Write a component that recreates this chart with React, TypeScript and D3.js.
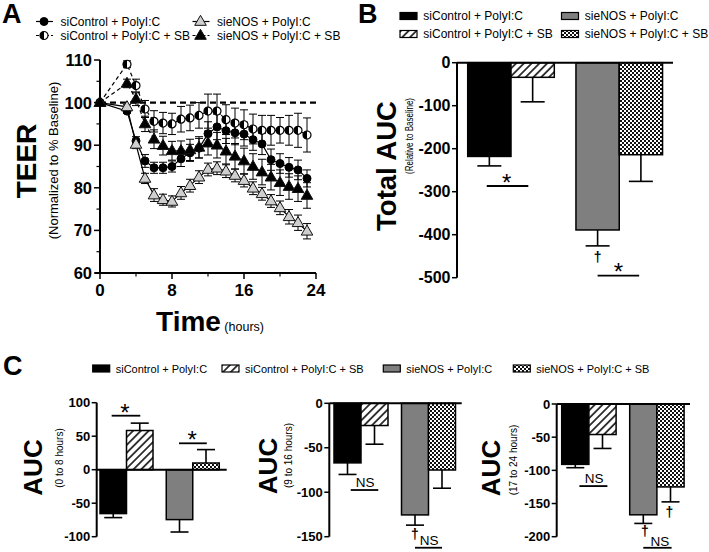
import React from 'react';
import * as d3 from 'd3';

const FONT = '"Liberation Sans", Arial, Helvetica, sans-serif';

// ---------- shared ----------
const groupLabels = [
  'siControl + PolyI:C',
  'siControl + PolyI:C + SB',
  'sieNOS + PolyI:C',
  'sieNOS + PolyI:C + SB',
];

// ---------- Panel A : TEER time course ----------
const timeHours = [0, 3, 4, 5, 6, 7, 8, 9, 10, 11, 12, 13, 14, 15, 16, 17, 18, 19, 20, 21, 22, 23];
const teerSiControl = [100, 98, 91, 86.3, 84.7, 84.7, 85, 86.8, 88.2, 89.3, 92.7, 94.3, 93.4, 92.9, 92.6, 91.3, 90.3, 86.6, 85.7, 84.8, 84.2, 82.2];
const teerSiControlSB = [100, 109, 104, 98.5, 95.6, 95.2, 95, 96.1, 96.4, 97, 98, 98, 96, 95.2, 94.8, 93.8, 93.5, 93.5, 93.5, 93.5, 93.5, 92.4];
const teerSieNOS = [100, 99, 90.2, 82.2, 78.3, 77.2, 76.8, 78.8, 80.5, 82.5, 84.3, 84.6, 83.9, 82.9, 81.7, 79.9, 78.6, 76.9, 75.3, 73.2, 71.8, 69.8];
const teerSieNOSSB = [100, 104.5, 100.8, 95, 91.4, 89.9, 88.7, 88.7, 88.9, 89.5, 90.5, 90, 88.6, 87.4, 86.3, 85, 83.7, 82.5, 81.2, 80.3, 79.8, 78.2];
const semSiControl = [0, 0.5, 1, 1.5, 1.3, 1.3, 1.3, 1.8, 2, 2.3, 2.8, 3, 3, 2.8, 2.8, 2.5, 2.5, 2.5, 2.3, 2.3, 2.3, 2];
const semSiControlSB = [0, 0.8, 1.5, 2, 2.5, 2.5, 2.5, 3, 3, 3, 4, 4, 3.5, 3.5, 3.5, 3.5, 3.5, 3.5, 3, 3.5, 4, 4];
const semSieNOS = [0, 0.5, 1, 1.2, 1.5, 1.3, 1.3, 1.5, 1.5, 1.5, 1.5, 1.5, 1.5, 1.5, 1.5, 1.5, 1.5, 1.5, 1.6, 1.7, 1.8, 1.8];
const semSieNOSSB = [0, 1, 1.5, 1.8, 2.2, 2.2, 2.2, 2.3, 2.5, 2.5, 2.8, 3, 3, 3, 3, 3, 3, 3, 3, 3, 3, 3];
const teerTicks = [60, 70, 80, 90, 100, 110];
const teerMinorTicks = [65, 75, 85, 95, 105];
const timeTicks = [0, 8, 16, 24];
const timeMinorTicks = [4, 12, 20];

// ---------- Panel B : total AUC ----------
const totalAUC = [-218, -34, -389, -214];
const totalAUCErr = [22, 57, 37, 62];
const totalAUCTicks = [0, -100, -200, -300, -400, -500];

// ---------- Panel C : AUC by period ----------
const auc0to8 = [-65.5, 58.5, -74.5, 10];
const auc0to8Err = [6, 11, 18.5, 20];
const auc0to8Ticks = [100, 50, 0, -50, -100];
const auc9to16 = [-67, -25, -125.5, -75];
const auc9to16Err = [13, 21, 11.5, 20.5];
const auc9to16Ticks = [0, -50, -100, -150];
const auc17to24 = [-91, -46, -167, -125];
const auc17to24Err = [5, 21, 13, 22.5];
const auc17to24Ticks = [0, -50, -100, -150, -200];

const barFills = ['#000000', 'url(#hatch)', '#7f7f7f', 'url(#checker)'];

type Ann =
  | { kind: 'line'; s0: number; s1: number; v: number }
  | { kind: 'star' | 'ns' | 'dagger'; s: number; v: number };

function textProps(kind: string, cy: number) {
  if (kind === 'star') return { fontSize: 24, y: cy + 0.58 * 24, fontWeight: 'normal', t: '*' };
  if (kind === 'ns') return { fontSize: 13.5, y: cy + 0.36 * 13.5, fontWeight: 'normal', t: 'NS' };
  return { fontSize: 14, y: cy + 0.3 * 14, fontWeight: 'bold', t: '\u2020' };
}

function BarPanel(props: {
  values: number[]; errs: number[]; ticks: number[]; domain: [number, number]; yRange: [number, number];
  axisX: number; axisEnd: number; barLeft: number; barW: number; capW: number; tickFont: number; anns: Ann[];
}) {
  const { values, errs, ticks, domain, yRange, axisX, axisEnd, barLeft, barW, capW, tickFont, anns } = props;
  const y = d3.scaleLinear().domain(domain).range(yRange);
  const slot = d3.scaleLinear().domain([0, 1]).range([barLeft, barLeft + barW]);
  const slotOf = (i: number) => i + (i >= 2 ? 0.5 : 0);
  const y0 = y(0);
  const [dMin, dMax] = d3.extent(domain) as [number, number];
  return (
    <g>
      {values.map((v, i) => {
        const x0 = slot(slotOf(i));
        const x1 = slot(slotOf(i) + 1);
        const cx = (x0 + x1) / 2;
        const ve = v + Math.sign(v) * errs[i];
        return (
          <g key={i}>
            <line x1={cx} x2={cx} y1={y(v)} y2={y(ve)} stroke="#000" strokeWidth={1.6} />
            <line x1={cx - capW / 2} x2={cx + capW / 2} y1={y(ve)} y2={y(ve)} stroke="#000" strokeWidth={1.6} />
            <rect x={x0} y={Math.min(y(v), y0)} width={x1 - x0} height={Math.abs(y(v) - y0)}
              fill={barFills[i]} stroke="#000" strokeWidth={1.5} />
          </g>
        );
      })}
      <line x1={axisX} x2={axisX} y1={y(dMin)} y2={y(dMax)} stroke="#000" strokeWidth={2} />
      <line x1={axisX} x2={axisEnd} y1={y0} y2={y0} stroke="#000" strokeWidth={2} />
      {ticks.map((t) => (
        <g key={t}>
          <line x1={axisX - 5} x2={axisX} y1={y(t)} y2={y(t)} stroke="#000" strokeWidth={1.5} />
          <text x={axisX - 6.5} y={y(t)} dy="0.36em" textAnchor="end" fontSize={tickFont} fontWeight="bold">{t}</text>
        </g>
      ))}
      {anns.map((a, k) => {
        if (a.kind === 'line') {
          return <line key={k} x1={slot(a.s0)} x2={slot(a.s1)} y1={y(a.v)} y2={y(a.v)} stroke="#000" strokeWidth={1.8} />;
        }
        const tp = textProps(a.kind, y(a.v));
        return (
          <text key={k} x={slot(a.s)} y={tp.y} textAnchor="middle" fontSize={tp.fontSize} fontWeight={tp.fontWeight}>{tp.t}</text>
        );
      })}
    </g>
  );
}

function RotLabel({ x, y, size, bold, len, children }: { x: number; y: number; size: number; bold?: boolean; len?: number; children: any }) {
  return (
    <text transform={`translate(${x},${y}) rotate(-90)`} textAnchor="middle" dy="0.35em"
      fontSize={size} fontWeight={bold ? 'bold' : 'normal'}
      textLength={len} lengthAdjust={len ? 'spacingAndGlyphs' : undefined}>{children}</text>
  );
}

function Marker({ shape, x, y }: { shape: string; x: number; y: number }) {
  const r = 4;
  if (shape === 'circle') return <circle cx={x} cy={y} r={r} fill="#000" stroke="#000" strokeWidth={1} />;
  if (shape === 'half')
    return (
      <g transform={`translate(${x},${y})`}>
        <circle r={r} fill="#fff" stroke="#000" strokeWidth={1.2} />
        <path d={`M0,${-r} A${r},${r} 0 0 0 0,${r} Z`} fill="#000" />
      </g>
    );
  const tri = d3.symbol().type(d3.symbolTriangle).size(58)() as string;
  return (
    <path d={tri} transform={`translate(${x},${y + 0.5})`}
      fill={shape === 'triGray' ? '#cfcfcf' : '#000'} stroke="#111" strokeWidth={1} />
  );
}

export default function App() {
  // ----- Panel A scales -----
  const xA = d3.scaleLinear().domain([0, 24]).range([100, 316]);
  const yA = d3.scaleLinear().domain([60, 110]).range([273, 60]);
  const seriesA = [
    { name: groupLabels[0], values: teerSiControl, errs: semSiControl, shape: 'circle', dashed: false },
    { name: groupLabels[1], values: teerSiControlSB, errs: semSiControlSB, shape: 'half', dashed: true },
    { name: groupLabels[2], values: teerSieNOS, errs: semSieNOS, shape: 'triGray', dashed: false },
    { name: groupLabels[3], values: teerSieNOSSB, errs: semSieNOSSB, shape: 'triBlack', dashed: true },
  ];
  const lineGen = d3.line<number>().x((_, i) => xA(timeHours[i])).y((d) => yA(d));
  const legendA = [
    { x: 44, y: 21.5 }, { x: 44, y: 35.5 }, { x: 200.5, y: 21.5 }, { x: 200.5, y: 35.5 },
  ];

  const legendB = [
    { x: 400, y: 12.5 }, { x: 400, y: 30.5 }, { x: 561.5, y: 12.5 }, { x: 561.5, y: 30.5 },
  ];
  const legendC = [92.7, 222, 383.3, 513.3];

  return (
    <svg width={709} height={552} style={{ position: 'absolute', left: 0, top: 0, display: 'block' }}
      fontFamily={FONT} fill="#000">
      <defs>
        <pattern id="hatch" patternUnits="userSpaceOnUse" width={5.5} height={5.5} patternTransform="rotate(45)">
          <rect width={5.5} height={5.5} fill="#fff" />
          <line x1={2.75} y1={0} x2={2.75} y2={5.5} stroke="#000" strokeWidth={1.5} />
        </pattern>
        <pattern id="checker" patternUnits="userSpaceOnUse" width={4} height={4}>
          <rect width={4} height={4} fill="#fff" />
          <rect width={2} height={2} fill="#111" />
          <rect x={2} y={2} width={2} height={2} fill="#111" />
        </pattern>
      </defs>
      <rect width={709} height={552} fill="#fff" />

      {/* ================= Panel A ================= */}
      <text x={2} y={23} fontSize={27} fontWeight="bold">A</text>
      {seriesA.map((s, i) => (
        <g key={i}>
          <line x1={legendA[i].x - 8} x2={legendA[i].x + 9} y1={legendA[i].y} y2={legendA[i].y}
            stroke="#000" strokeWidth={1.2} strokeDasharray={s.dashed ? '3 2' : undefined} />
          <Marker shape={s.shape} x={legendA[i].x} y={legendA[i].y} />
          <text x={legendA[i].x + 16.5} y={legendA[i].y + 4} fontSize={12}>{s.name}</text>
        </g>
      ))}
      {/* baseline dashed */}
      <line x1={xA(0)} x2={xA(24)} y1={yA(100)} y2={yA(100)} stroke="#000" strokeWidth={2.2} strokeDasharray="6 4" />
      {seriesA.map((s, i) => (
        <path key={'l' + i} d={lineGen(s.values) as string} fill="none" stroke="#000" strokeWidth={1.2}
          strokeDasharray={s.dashed ? '4 3' : undefined} />
      ))}
      {seriesA.map((s, i) => (
        <g key={'e' + i}>
          {s.values.map((v, j) => {
            if (!s.errs[j]) return null;
            const x = xA(timeHours[j]);
            const hi = yA(v + s.errs[j]);
            const lo = yA(v - s.errs[j]);
            return (
              <g key={j}>
                <line x1={x} x2={x} y1={hi} y2={lo} stroke="#000" strokeWidth={1} />
                <line x1={x - 4} x2={x + 4} y1={hi} y2={hi} stroke="#000" strokeWidth={1} />
                <line x1={x - 4} x2={x + 4} y1={lo} y2={lo} stroke="#000" strokeWidth={1} />
              </g>
            );
          })}
        </g>
      ))}
      {seriesA.map((s, i) => (
        <g key={'m' + i}>
          {s.values.map((v, j) => (
            <Marker key={j} shape={s.shape} x={xA(timeHours[j])} y={yA(v)} />
          ))}
        </g>
      ))}
      {/* axes A */}
      <line x1={xA(0)} x2={xA(0)} y1={yA(60)} y2={yA(110)} stroke="#000" strokeWidth={2} />
      <line x1={xA(0) - 5} x2={xA(24)} y1={yA(60)} y2={yA(60)} stroke="#000" strokeWidth={2} />
      {teerTicks.map((t) => (
        <g key={t}>
          <line x1={xA(0) - 6} x2={xA(0)} y1={yA(t)} y2={yA(t)} stroke="#000" strokeWidth={1.5} />
          <text x={xA(0) - 8} y={yA(t)} dy="0.36em" textAnchor="end" fontSize={16.5} fontWeight="bold">{t}</text>
        </g>
      ))}
      {teerMinorTicks.map((t) => (
        <line key={t} x1={xA(0) - 3.5} x2={xA(0)} y1={yA(t)} y2={yA(t)} stroke="#000" strokeWidth={1.2} />
      ))}
      {timeTicks.map((t) => (
        <g key={t}>
          <line x1={xA(t)} x2={xA(t)} y1={yA(60)} y2={yA(60) + 6} stroke="#000" strokeWidth={1.5} />
          <text x={xA(t)} y={yA(60) + 23} textAnchor="middle" fontSize={17} fontWeight="bold">{t}</text>
        </g>
      ))}
      {timeMinorTicks.map((t) => (
        <line key={t} x1={xA(t)} x2={xA(t)} y1={yA(60)} y2={yA(60) + 3.5} stroke="#000" strokeWidth={1.2} />
      ))}
      <RotLabel x={26.5} y={161} size={28} bold>TEER</RotLabel>
      <RotLabel x={53} y={160.5} size={13}>(Normalized to % Baseline)</RotLabel>
      <text x={210} y={331} textAnchor="middle">
        <tspan fontSize={28} fontWeight="bold">Time</tspan>
        <tspan fontSize={12.5}> (hours)</tspan>
      </text>

      {/* ================= Panel B ================= */}
      <text x={358} y={23} fontSize={27} fontWeight="bold">B</text>
      {groupLabels.map((g, i) => (
        <g key={g}>
          <rect x={legendB[i].x} y={legendB[i].y} width={17} height={7} fill={barFills[i]} stroke="#000" strokeWidth={1.2} />
          <text x={legendB[i].x + 23.3} y={legendB[i].y + 7.5} fontSize={12}>{g}</text>
        </g>
      ))}
      <BarPanel values={totalAUC} errs={totalAUCErr} ticks={totalAUCTicks} domain={[-500, 0]} yRange={[277.7, 62.7]}
        axisX={457} axisEnd={673} barLeft={467.7} barW={43.3} capW={24} tickFont={16}
        anns={[
          { kind: 'line', s0: 0.44, s1: 1.4, v: -286.7 },
          { kind: 'star', s: 0.9, v: -265 },
          { kind: 'dagger', s: 3.0, v: -454 },
          { kind: 'line', s0: 3.0, s1: 3.96, v: -495.3 },
          { kind: 'star', s: 3.48, v: -472.8 },
        ]} />
      <RotLabel x={386.7} y={166} size={27.5} bold>Total AUC</RotLabel>
      <RotLabel x={409} y={136} size={10.5} len={76}>(Relative to Baseline)</RotLabel>

      {/* ================= Panel C ================= */}
      <text x={3} y={375} fontSize={27} fontWeight="bold">C</text>
      {groupLabels.map((g, i) => (
        <g key={g}>
          <rect x={legendC[i]} y={365} width={17} height={7} fill={barFills[i]} stroke="#000" strokeWidth={1.2} />
          <text x={legendC[i] + 23} y={372.5} fontSize={11}>{g}</text>
        </g>
      ))}
      <BarPanel values={auc0to8} errs={auc0to8Err} ticks={auc0to8Ticks} domain={[-100, 100]} yRange={[536.7, 402.7]}
        axisX={96.7} axisEnd={226.7} barLeft={100} barW={26.5} capW={18} tickFont={13}
        anns={[
          { kind: 'line', s0: 0.44, s1: 1.52, v: 80.6 },
          { kind: 'star', s: 0.94, v: 94 },
          { kind: 'line', s0: 2.98, s1: 4.03, v: 39.4 },
          { kind: 'star', s: 3.48, v: 53.3 },
        ]} />
      <RotLabel x={32.5} y={467.5} size={26} bold>AUC</RotLabel>
      <RotLabel x={59} y={458} size={10}>(0 to 8 hours)</RotLabel>

      <BarPanel values={auc9to16} errs={auc9to16Err} ticks={auc9to16Ticks} domain={[-150, 0]} yRange={[536.7, 403.3]}
        axisX={329.3} axisEnd={461.7} barLeft={334} barW={27} capW={18} tickFont={13}
        anns={[
          { kind: 'ns', s: 1.15, v: -88.2 },
          { kind: 'line', s0: 0.62, s1: 1.64, v: -97.5 },
          { kind: 'dagger', s: 3.0, v: -148.1 },
          { kind: 'ns', s: 3.52, v: -153.8 },
          { kind: 'line', s0: 3.0, s1: 4.0, v: -162.4 },
        ]} />
      <RotLabel x={267.5} y={466} size={26} bold>AUC</RotLabel>
      <RotLabel x={288} y={455.5} size={10}>(9 to 16 hours)</RotLabel>

      <BarPanel values={auc17to24} errs={auc17to24Err} ticks={auc17to24Ticks} domain={[-200, 0]} yRange={[536.7, 404]}
        axisX={556.7} axisEnd={690} barLeft={561.7} barW={27.2} capW={18} tickFont={13}
        anns={[
          { kind: 'ns', s: 1.19, v: -111.6 },
          { kind: 'line', s0: 0.65, s1: 1.68, v: -123.7 },
          { kind: 'dagger', s: 3.96, v: -164.4 },
          { kind: 'dagger', s: 3.06, v: -192.6 },
          { kind: 'ns', s: 3.61, v: -206.6 },
          { kind: 'line', s0: 3.0, s1: 4.04, v: -216.7 },
        ]} />
      <RotLabel x={491} y={468} size={26} bold>AUC</RotLabel>
      <RotLabel x={513} y={460} size={10}>(17 to 24 hours)</RotLabel>
    </svg>
  );
}
